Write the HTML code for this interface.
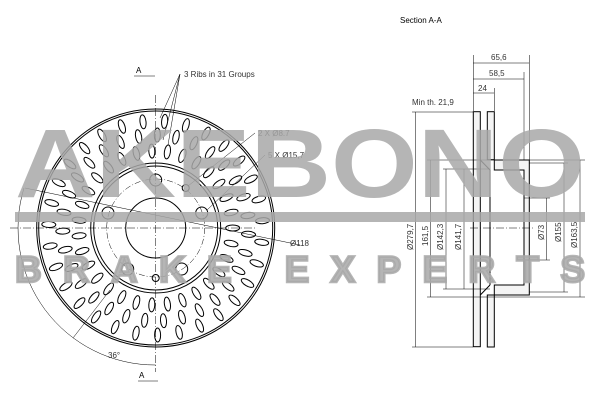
<!DOCTYPE html>
<html><head><meta charset="utf-8"><style>
html,body{margin:0;padding:0;background:#fff;}
svg{display:block;}
text{font-family:"Liberation Sans",sans-serif;}
</style></head><body>
<svg id="s" width="600" height="400" viewBox="0 0 600 400" xmlns="http://www.w3.org/2000/svg">
<rect width="600" height="400" fill="#fff"/>
<g id="disc" fill="none" stroke="#000" stroke-width="1">
<circle cx="155.7" cy="228" r="119"/>
<circle cx="155.7" cy="228" r="117"/>
<circle cx="155.7" cy="228" r="65"/>
<circle cx="155.7" cy="228" r="62"/>
<circle cx="155.7" cy="228" r="30"/>
<circle cx="155.7" cy="228" r="49" stroke-width="0.5" stroke-dasharray="6 2 1 2"/>
<circle cx="155.7" cy="180" r="6"/>
<circle cx="201.7" cy="213" r="6"/>
<circle cx="181.7" cy="269" r="6"/>
<circle cx="127.7" cy="269" r="6"/>
<circle cx="108" cy="213" r="6"/>
<circle cx="185.7" cy="188" r="3.5"/>
<circle cx="155.7" cy="278" r="3.5"/>
<g id="ribs"></g>
</g>
<g stroke="#000" stroke-width="0.5" fill="none">
<line x1="155.7" y1="95" x2="155.7" y2="372" stroke-dasharray="8 2 1 2"/>
<line x1="10" y1="228" x2="255" y2="228" stroke-dasharray="8 2 1 2"/>
<line x1="25" y1="188" x2="300" y2="245"/>
<path d="M24,188 A137,137 0 0 0 155.7,365"/>
<line x1="73" y1="338" x2="110" y2="290"/>
<line x1="180" y1="74" x2="160" y2="118"/><line x1="180" y1="74" x2="163" y2="140"/><line x1="180" y1="74" x2="168" y2="145"/>
<line x1="255" y1="133" x2="188" y2="186"/>
<line x1="265" y1="155" x2="207" y2="210"/>
<line x1="134" y1="76" x2="155" y2="76"/><line x1="138" y1="381" x2="158" y2="381"/>
</g>
<g fill="#000" font-size="8">
<text x="136" y="73">A</text><text x="139" y="378">A</text>
<text x="184" y="77" fill="#333">3 Ribs in 31 Groups</text>
<text x="258" y="136" fill="#333">2 X Ø8.7</text>
<text x="268" y="158" fill="#333">5 X Ø15,7</text>
<text x="290" y="246" fill="#333">Ø118</text>
<text x="108" y="358" fill="#333">36°</text>
<text x="400" y="23">Section A-A</text>
<text x="491" y="60" fill="#333">65,6</text>
<text x="489" y="76" fill="#333">58,5</text>
<text x="478" y="91" fill="#333">24</text>
<text x="412" y="105" fill="#333">Min th. 21,9</text>
</g>
<g fill="#333" font-size="8">
<text transform="translate(413,250) rotate(-90)">Ø279,7</text>
<text transform="translate(428,246) rotate(-90)">161,5</text>
<text transform="translate(443,250) rotate(-90)">Ø142,3</text>
<text transform="translate(461,250) rotate(-90)">Ø141,7</text>
<text transform="translate(544,240) rotate(-90)">Ø73</text>
<text transform="translate(561,242) rotate(-90)">Ø155</text>
<text transform="translate(577,248) rotate(-90)">Ø163,5</text>
</g>
<!-- section -->
<g stroke="#000" stroke-width="1" fill="none">
<rect x="473.3" y="111.7" width="7" height="235" fill="#f4f4f4"/>
<rect x="487.3" y="111.7" width="7" height="48" fill="#f4f4f4"/>
<rect x="487.3" y="295" width="7" height="52" fill="#f4f4f4"/>
<path d="M494.3,160 L529.3,160 L529.3,295 L494.3,295 L494.3,285 L524,285 L524,170 L494.3,170 Z" fill="#f4f4f4"/>
<line x1="480.3" y1="160" x2="490" y2="170"/><line x1="480.3" y1="295" x2="490" y2="285"/>
<line x1="490" y1="170" x2="490" y2="285"/>
</g>
<g stroke="#000" stroke-width="0.5" fill="none">
<line x1="473.3" y1="55" x2="473.3" y2="111"/><line x1="529.3" y1="55" x2="529.3" y2="160"/><line x1="524" y1="72" x2="524" y2="160"/><line x1="494.3" y1="88" x2="494.3" y2="111"/>
<line x1="473.3" y1="63" x2="529.3" y2="63"/><line x1="473.3" y1="79" x2="524" y2="79"/><line x1="473.3" y1="93" x2="494.3" y2="93"/>
<line x1="412" y1="112" x2="473" y2="112"/><line x1="412" y1="347" x2="473" y2="347"/>
<line x1="415.7" y1="112" x2="415.7" y2="347"/>
<line x1="427" y1="160" x2="585" y2="160"/><line x1="427" y1="297" x2="585" y2="297"/>
<line x1="430.7" y1="160" x2="430.7" y2="297"/>
<line x1="443" y1="169" x2="490" y2="169"/><line x1="443" y1="289" x2="490" y2="289"/>
<line x1="446" y1="169" x2="446" y2="289"/><line x1="464" y1="169" x2="464" y2="289"/>
<line x1="524" y1="198" x2="550" y2="198"/><line x1="524" y1="260" x2="550" y2="260"/>
<line x1="546.7" y1="198" x2="546.7" y2="260"/>
<line x1="529" y1="163" x2="568" y2="163"/><line x1="529" y1="292" x2="568" y2="292"/>
<line x1="564" y1="163" x2="564" y2="292"/><line x1="580" y1="160" x2="580" y2="297"/>
<line x1="470" y1="228" x2="535" y2="228" stroke-dasharray="8 2 1 2"/>
</g>
<!-- watermark -->
<g fill="#a8a8a8" fill-opacity="0.85">
<text x="15" y="197" font-size="97" font-weight="bold" textLength="570" lengthAdjust="spacingAndGlyphs">AKEBONO</text>
<rect x="15" y="212" width="570" height="10"/>
<text x="15" y="282" font-size="37" font-weight="bold" textLength="570" lengthAdjust="spacing" stroke="#a8a8a8" stroke-width="2.5" stroke-opacity="0.85">BRAKE EXPERTS</text>
</g>
</svg>
<script>
var g=document.getElementById('ribs'),cx=155.7,cy=228,h='';
for(var i=0;i<31;i++){var b=i*360/31;
[[77,0],[93,3.9],[107,7.7]].forEach(function(p){var a=(b+p[1])*Math.PI/180;
var x=cx+p[0]*Math.cos(a),y=cy+p[0]*Math.sin(a);
h+='<ellipse cx="'+x.toFixed(1)+'" cy="'+y.toFixed(1)+'" rx="7" ry="3" transform="rotate('+(b+p[1]).toFixed(1)+' '+x.toFixed(1)+' '+y.toFixed(1)+')"/>';});}
g.innerHTML=h;
</script>
</body></html>
